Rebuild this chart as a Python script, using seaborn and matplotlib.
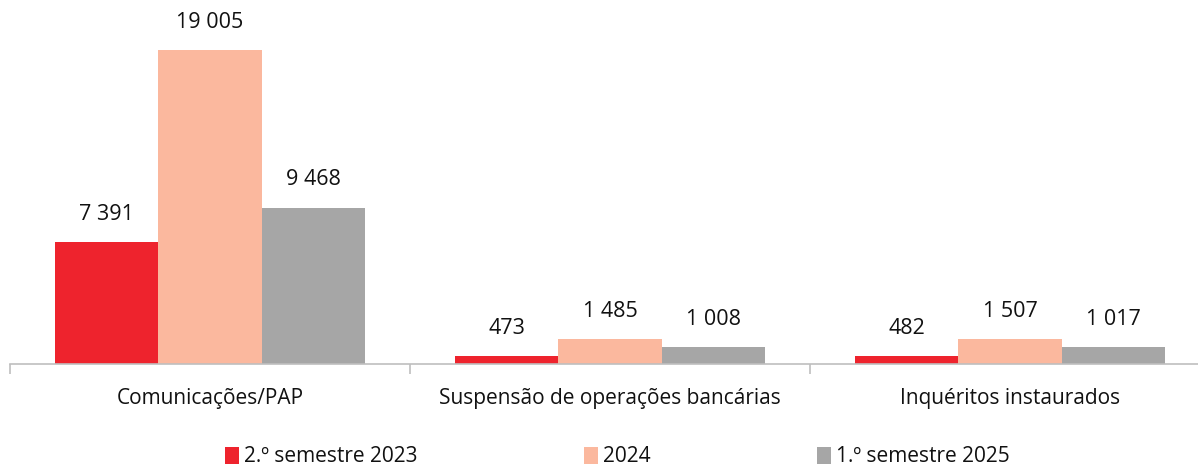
import matplotlib
matplotlib.use("Agg")
import matplotlib.pyplot as plt
from matplotlib.patches import Patch
from matplotlib.ticker import FixedLocator
import seaborn as sns
import pandas as pd

categories = ["Comunicações/PAP", "Suspensão de operações bancárias", "Inquéritos instaurados"]
series_names = ["2.º semestre 2023", "2024", "1.º semestre 2025"]
s2023 = [7391, 473, 482]
s2024 = [19005, 1485, 1507]
s2025 = [9468, 1008, 1017]
colors = ["#EE232D", "#FBB89E", "#A6A6A6"]

rows = []
for name, vals in zip(series_names, [s2023, s2024, s2025]):
    for c, v in zip(categories, vals):
        rows.append({"cat": c, "serie": name, "valor": v})
df = pd.DataFrame(rows)

sns.set_style("white")
plt.rcParams["font.family"] = ["Open Sans", "DejaVu Sans"]

W, H = 1198, 466
fig = plt.figure(figsize=(W / 100, H / 100), dpi=100)
ax = fig.add_axes([10 / W, 102 / H, 1200 / W, 344 / H])

sns.barplot(data=df, x="cat", y="valor", hue="serie", order=categories,
            hue_order=series_names, palette=colors, width=0.775, gap=0,
            saturation=1, linewidth=0, ax=ax, legend=False)

ax.set_xlim(-0.5, 2.5)
ax.set_ylim(0, 20820)
ax.set_xlabel("")
ax.set_ylabel("")
ax.set_yticks([])
for s in ["top", "right", "left"]:
    ax.spines[s].set_visible(False)
ax.spines["bottom"].set_color("#BFBFBF")
ax.spines["bottom"].set_linewidth(1.2)

txt = "#111111"
ax.tick_params(axis="x", which="major", bottom=False, length=0, labelsize=15, pad=17, colors=txt)
ax.xaxis.set_minor_locator(FixedLocator([-0.5, 0.5, 1.5, 2.5]))
ax.tick_params(axis="x", which="minor", bottom=True, length=7.5, width=1.2, color="#BFBFBF")

def fmt(v):
    return f"{v:,}".replace(",", " ")

for cont in ax.containers:
    for bar in cont:
        h = bar.get_height()
        ax.annotate(fmt(int(round(h))), (bar.get_x() + bar.get_width() / 2, h),
                    xytext=(0, 20), textcoords="offset points",
                    ha="center", va="center", fontsize=15.5, color=txt,
                    annotation_clip=False)

handles = [Patch(facecolor=c, edgecolor="none") for c in colors]
fig.legend(handles, series_names, loc="center", bbox_to_anchor=(0.5155, 1 - 457 / H),
           ncol=3, frameon=False, fontsize=15, handlelength=0.65, handleheight=0.85,
           handletextpad=0.25, columnspacing=8.0, labelcolor=txt)

fig.savefig("out.png", dpi=100)
